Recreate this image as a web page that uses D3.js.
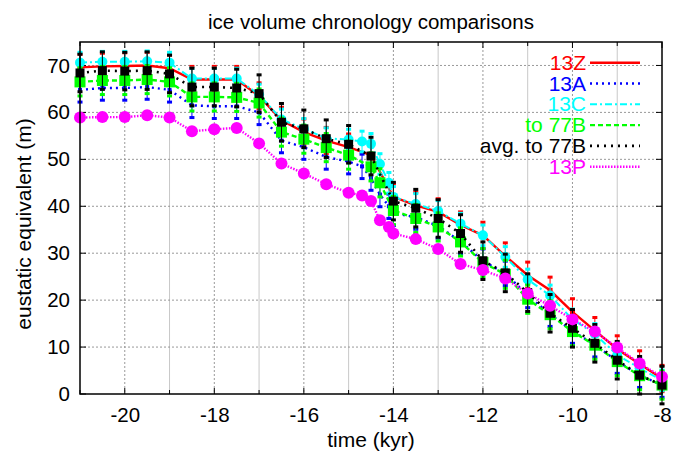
<!DOCTYPE html>
<html>
<head>
<meta charset="utf-8">
<script src="https://cdn.jsdelivr.net/npm/d3@7"></script>
<style>
  html, body { margin: 0; padding: 0; background: #fff; }
  svg { display: block; font-family: "Liberation Sans", Arial, Helvetica, sans-serif; }
</style>
</head>
<body>
<svg id="chart" width="688" height="455"></svg>
<script>
// sample times (kyr); null entries mean the chronology has no sample there
const kyr = [-21,-20.5,-20,-19.5,-19,-18.5,-18,-17.5,-17,-16.5,-16,-15.5,-15,-14.7,-14.5,-14.3,-14.1,-14,-13.5,-13,-12.5,-12,-11.5,-11,-10.5,-10,-9.5,-9,-8.5,-8];

const z13  = [69.6,69.8,69.9,70.0,69.4,67.0,67.0,67.0,63.5,58.3,55.8,54.0,52.6,null,50.9,null,null,42.0,40.2,38.8,36.0,33.8,29.4,25.3,22.1,17.5,13.5,9.6,6.4,3.3];
const a13  = [64.8,65.2,65.2,65.4,64.8,61.5,61.3,61.3,60.0,54.0,52.6,50.5,49.5,48.5,46.0,42.5,40.0,38.5,37.7,35.8,32.5,28.3,25.7,21.0,17.0,13.4,10.5,7.0,4.0,1.9];
const c13  = [70.6,70.8,70.8,70.9,70.6,67.2,67.2,67.2,63.8,58.5,56.5,54.5,54.2,53.8,53.3,49.0,45.0,42.0,40.5,39.0,36.3,33.8,29.2,24.4,21.0,15.9,12.8,8.3,5.5,2.9];
const b77  = [66.5,66.8,66.8,67.0,66.5,63.3,63.3,63.2,62.0,55.8,54.3,52.5,50.9,null,48.4,45.0,null,39.1,37.4,35.6,32.4,28.0,25.5,20.2,16.9,13.3,10.4,6.9,3.9,1.9];
const avg77 = [68.4,68.9,68.8,68.9,68.2,65.4,65.4,65.2,64.0,57.9,56.5,54.4,53.2,null,50.7,null,null,41.1,39.6,37.4,34.2,28.4,25.8,21.6,17.2,14.0,10.8,7.2,4.0,1.9];
const p13  = [58.9,59.0,59.0,59.4,58.9,56.0,56.4,56.7,53.4,49.1,47.0,44.7,42.9,42.3,41.1,37.0,35.6,34.2,33.0,30.9,27.7,26.4,24.6,21.4,18.8,15.9,13.3,9.9,6.5,3.7];

// half-width of each chronology's uncertainty bar (m); 0 = no bars
const errHalf = [2.8, 2.6, 2.2, 3.0, 4.0, 0];

const seriesNames = ["13Z", "13A", "13C", "to 77B", "avg. to 77B", "13P"];
const seriesValues = [z13, a13, c13, b77, avg77, p13];
const seriesColors = ["#ff0000", "#0000ff", "#00ffff", "#00ff00", "#000000", "#ff00ff"];

const xTicks = [-20, -18, -16, -14, -12, -10, -8];
const yTicks = [0, 10, 20, 30, 40, 50, 60, 70];

const styles = [
  { dash: null,          width: 2.4, marker: "square", size: 5 },
  { dash: "2,4",         width: 2.4, marker: "square", size: 4 },
  { dash: "7,3,2,3",     width: 2.0, marker: "circle", size: 5 },
  { dash: "5,3",         width: 2.4, marker: "square", size: 11 },
  { dash: "2,5",         width: 2.6, marker: "square", size: 9 },
  { dash: "1.5,1.5",     width: 2.4, marker: "circle", size: 6 }
];

const FONT = "'Liberation Sans', Arial, Helvetica, sans-serif";
const svg = d3.select("#chart");
const m = { left: 80, right: 662, top: 42, bottom: 394 };

const x = d3.scaleLinear().domain([-21, -8]).range([m.left, m.right]);
const y = d3.scaleLinear().domain([0, 75]).range([m.bottom, m.top]);

// grid: dotted at the labelled kyr, light solid at the in-between ones
const g = svg.append("g");
d3.range(-20, -8, 1).forEach(t => {
  const major = (t % 2 === 0);
  g.append("line")
    .attr("x1", x(t)).attr("x2", x(t)).attr("y1", m.top).attr("y2", m.bottom)
    .attr("stroke", major ? "#999" : "#c8c8c8")
    .attr("stroke-width", 1)
    .attr("stroke-dasharray", major ? "2,2" : null);
});
yTicks.filter(v => v > 0).forEach(v => {
  g.append("line")
    .attr("x1", m.left).attr("x2", m.right).attr("y1", y(v)).attr("y2", y(v))
    .attr("stroke", "#999").attr("stroke-width", 1).attr("stroke-dasharray", "2,2");
});

// axes
const xAxis = d3.axisBottom(x).tickValues(xTicks).tickSize(0).tickPadding(13).tickFormat(d3.format("d"));
const yAxis = d3.axisLeft(y).tickValues(yTicks).tickSize(0).tickPadding(10);
const xa = svg.append("g").attr("transform", `translate(0,${m.bottom})`).call(xAxis);
const ya = svg.append("g").attr("transform", `translate(${m.left},0)`).call(yAxis);
[xa, ya].forEach(a => {
  a.select(".domain").remove();
  a.selectAll("text").attr("font-size", 20.5).attr("fill", "#000").attr("font-family", FONT);
});
xa.selectAll("text").text(d => String(d));

// tick marks on all four sides
const tk = svg.append("g").attr("stroke", "#000").attr("stroke-width", 1);
d3.range(-21, -7, 1).forEach(t => {
  const len = (t % 2 === 0) ? 6 : 4;
  tk.append("line").attr("x1", x(t)).attr("x2", x(t)).attr("y1", m.bottom).attr("y2", m.bottom - len);
  tk.append("line").attr("x1", x(t)).attr("x2", x(t)).attr("y1", m.top).attr("y2", m.top + len);
});
yTicks.forEach(v => {
  tk.append("line").attr("x1", m.left).attr("x2", m.left + 6).attr("y1", y(v)).attr("y2", y(v));
  tk.append("line").attr("x1", m.right).attr("x2", m.right - 6).attr("y1", y(v)).attr("y2", y(v));
});

// series
const line = d3.line().x(d => x(d.t)).y(d => y(d.v));
const plot = svg.append("g");
seriesValues.forEach((vals, i) => {
  const pts = kyr.map((t, j) => ({ t, v: vals[j] })).filter(d => d.v !== null);
  const st = styles[i], col = seriesColors[i];
  const sg = plot.append("g");
  // uncertainty bars
  if (errHalf[i] > 0) {
    pts.forEach(d => {
      const x0 = x(d.t), yt = y(d.v + errHalf[i]), yb = y(d.v - errHalf[i]);
      sg.append("line").attr("x1", x0).attr("x2", x0).attr("y1", yt).attr("y2", yb)
        .attr("stroke", col).attr("stroke-width", 1);
      [yt, yb].forEach(yy => sg.append("rect")
        .attr("x", x0 - 2.5).attr("y", yy - 1.5).attr("width", 5).attr("height", 3)
        .attr("fill", col));
    });
  }
  sg.append("path").datum(pts).attr("d", line)
    .attr("fill", "none").attr("stroke", col).attr("stroke-width", st.width)
    .attr("stroke-dasharray", st.dash);
  pts.forEach(d => {
    if (st.marker === "circle") {
      sg.append("circle").attr("cx", x(d.t)).attr("cy", y(d.v)).attr("r", st.size).attr("fill", col);
    } else {
      sg.append("rect").attr("x", x(d.t) - st.size / 2).attr("y", y(d.v) - st.size / 2)
        .attr("width", st.size).attr("height", st.size).attr("fill", col);
    }
  });
});

// frame
svg.append("rect").attr("x", m.left).attr("y", m.top)
  .attr("width", m.right - m.left).attr("height", m.bottom - m.top)
  .attr("fill", "none").attr("stroke", "#000").attr("stroke-width", 1.5);

// legend
const lg = svg.append("g");
seriesNames.forEach((name, i) => {
  const yy = 62.7 + i * 20.8;
  lg.append("text").attr("x", 586).attr("y", yy + 7).attr("text-anchor", "end")
    .attr("font-size", 21).attr("font-family", FONT).attr("fill", seriesColors[i]).text(name);
  lg.append("line").attr("x1", 590).attr("x2", 640).attr("y1", yy).attr("y2", yy)
    .attr("stroke", seriesColors[i]).attr("stroke-width", styles[i].width)
    .attr("stroke-dasharray", styles[i].dash);
});

// titles
svg.append("text").attr("x", 371).attr("y", 29).attr("text-anchor", "middle")
  .attr("font-size", 20.5).attr("font-family", FONT).text("ice volume chronology comparisons");
svg.append("text").attr("x", 371).attr("y", 447).attr("text-anchor", "middle")
  .attr("font-size", 21).attr("font-family", FONT).text("time (kyr)");
svg.append("text").attr("transform", `translate(31,${(m.top + m.bottom) / 2 + 6}) rotate(-90)`)
  .attr("text-anchor", "middle").attr("font-size", 21).attr("font-family", FONT)
  .text("eustatic equivalent (m)");
</script>
</body>
</html>
